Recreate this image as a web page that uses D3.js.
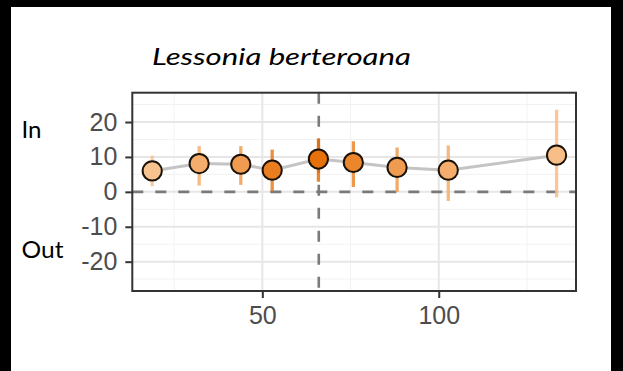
<!DOCTYPE html>
<html>
<head>
<meta charset="utf-8">
<script src="https://cdn.jsdelivr.net/npm/d3@7"></script>
<style>
  html, body { margin: 0; padding: 0; background: #000; }
  svg { display: block; }
</style>
</head>
<body>
<svg id="chart" width="623" height="371"></svg>
<script>
// Site size (x), estimated effect with its interval, and relative strength per site
const sizes    = [18.8, 32.1, 43.9, 52.8, 65.9, 75.8, 88.2, 102.7, 133.4];
const estimate = [6.0, 8.1, 7.9, 6.2, 9.4, 8.4, 7.0, 6.2, 10.5];
const upper    = [10.4, 13.1, 13.1, 12.1, 15.3, 14.5, 12.7, 13.3, 23.5];
const lower    = [1.6, 1.8, 2.0, 0.2, 2.9, 1.4, 0.0, -2.6, -1.6];
const strength = [0.05, 0.3, 0.5, 0.85, 1.0, 0.75, 0.5, 0.3, 0.1];

const xTicks = [50, 100];
const xMinor = [25, 75, 125];
const yTicks = [-20, -10, 0, 10, 20];
const yMinor = [-25, -15, -5, 5, 15, 25];
const threshold = 66;
const title = "Lessonia berteroana";
const sideLabels = ["In", "Out"];

const svg = d3.select("#chart");

// page area (the frame around it stays black)
svg.append("rect").attr("x", 11).attr("y", 7).attr("width", 600).attr("height", 364).attr("fill", "#fff");

const panel = { left: 132.3, right: 576, top: 92.7, bottom: 291 };
const x = d3.scaleLinear().domain([13.15, 138.9]).range([panel.left, panel.right]);
const y = d3.scaleLinear().domain([-28.4, 28.4]).range([panel.bottom, panel.top]);
const color = d3.scaleLinear().domain([0, 1]).range(["#fac796", "#e6700a"]);

const data = sizes.map((s, i) => ({ s, est: estimate[i], hi: upper[i], lo: lower[i], k: strength[i] }));

// grid
const grid = svg.append("g");
grid.selectAll(".gxm").data(xMinor).join("line")
  .attr("x1", d => x(d)).attr("x2", d => x(d)).attr("y1", panel.top).attr("y2", panel.bottom)
  .attr("stroke", "#f2f2f2").attr("stroke-width", 1);
grid.selectAll(".gym").data(yMinor).join("line")
  .attr("y1", d => y(d)).attr("y2", d => y(d)).attr("x1", panel.left).attr("x2", panel.right)
  .attr("stroke", "#f2f2f2").attr("stroke-width", 1);
grid.selectAll(".gx").data(xTicks).join("line")
  .attr("x1", d => x(d)).attr("x2", d => x(d)).attr("y1", panel.top).attr("y2", panel.bottom)
  .attr("stroke", "#e6e6e6").attr("stroke-width", 2);
grid.selectAll(".gy").data(yTicks).join("line")
  .attr("y1", d => y(d)).attr("y2", d => y(d)).attr("x1", panel.left).attr("x2", panel.right)
  .attr("stroke", "#e6e6e6").attr("stroke-width", 2);

// reference lines
svg.append("line")
  .attr("x1", panel.left).attr("x2", panel.right).attr("y1", y(0)).attr("y2", y(0))
  .attr("stroke", "#7a7a7a").attr("stroke-width", 2.6).attr("stroke-dasharray", "11,12");
svg.append("line")
  .attr("x1", x(threshold)).attr("x2", x(threshold)).attr("y1", panel.top).attr("y2", panel.bottom)
  .attr("stroke", "#7a7a7a").attr("stroke-width", 2.6).attr("stroke-dasharray", "11,12");

// connecting line
svg.append("path").datum(data)
  .attr("d", d3.line().x(d => x(d.s)).y(d => y(d.est)))
  .attr("fill", "none").attr("stroke", "#c4c4c4").attr("stroke-width", 3);

// intervals
svg.append("g").selectAll("line").data(data).join("line")
  .attr("x1", d => x(d.s)).attr("x2", d => x(d.s))
  .attr("y1", d => y(d.lo)).attr("y2", d => y(d.hi))
  .attr("stroke", d => color(d.k)).attr("stroke-opacity", 0.85).attr("stroke-width", 3.3);

// points
svg.append("g").selectAll("circle").data(data).join("circle")
  .attr("cx", d => x(d.s)).attr("cy", d => y(d.est)).attr("r", 9.6)
  .attr("fill", d => color(d.k)).attr("stroke", "#1a1209").attr("stroke-width", 2);

// panel border
svg.append("rect")
  .attr("x", panel.left).attr("y", panel.top)
  .attr("width", panel.right - panel.left).attr("height", panel.bottom - panel.top)
  .attr("fill", "none").attr("stroke", "#333").attr("stroke-width", 2);

// axes (plain hyphen for negatives)
const plain = d => String(d);
const yAxis = svg.append("g").attr("transform", `translate(${panel.left},0)`)
  .call(d3.axisLeft(y).tickValues(yTicks).tickFormat(plain).tickSize(7).tickPadding(8));
const xAxis = svg.append("g").attr("transform", `translate(0,${panel.bottom})`)
  .call(d3.axisBottom(x).tickValues(xTicks).tickFormat(plain).tickSize(7).tickPadding(8));
[yAxis, xAxis].forEach(a => {
  a.select(".domain").remove();
  a.selectAll(".tick line").attr("stroke", "#333").attr("stroke-width", 2);
  a.selectAll(".tick text").attr("fill", "#4d4d4d")
    .style("font-family", "'Liberation Sans', Arial, sans-serif").style("font-size", "25px");
});

// title and side labels
const fitText = (sel, width) => sel.attr("textLength", width).attr("lengthAdjust", "spacingAndGlyphs");
svg.append("text").text(title)
  .attr("x", 152).attr("y", 65)
  .style("font-family", "Lato, 'Open Sans', sans-serif").style("font-style", "italic").style("font-size", "23.5px")
  .attr("fill", "#000").call(fitText, 259);
svg.append("text").text(sideLabels[0])
  .attr("x", 21.5).attr("y", 138.3)
  .style("font-family", "Lato, 'Open Sans', sans-serif").style("font-size", "23.5px")
  .attr("fill", "#000").call(fitText, 20);
svg.append("text").text(sideLabels[1])
  .attr("x", 21.5).attr("y", 257.7)
  .style("font-family", "Lato, 'Open Sans', sans-serif").style("font-size", "23.5px")
  .attr("fill", "#000").call(fitText, 42);
</script>
</body>
</html>
